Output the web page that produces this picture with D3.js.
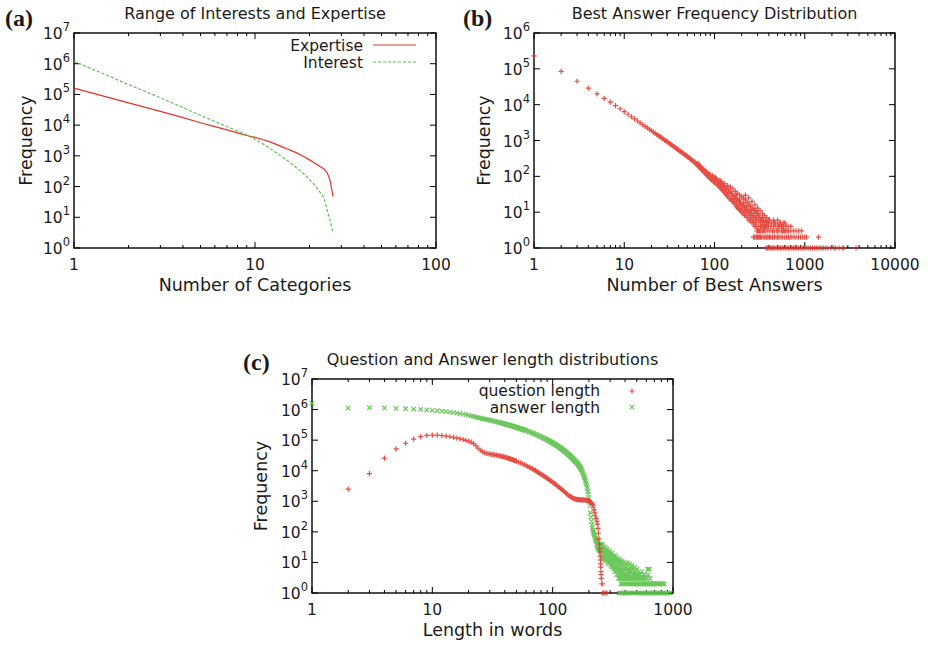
<!DOCTYPE html>
<html>
<head>
<meta charset="utf-8">
<script src="https://cdn.jsdelivr.net/npm/d3@7"></script>
<style>
  body { margin: 0; background: #fff; }
  svg { display: block; }
  text { font-family: "DejaVu Sans", sans-serif; fill: #1a1a1a; }
</style>
</head>
<body>
<svg id="chart" width="930" height="645"></svg>
<script>
// ---- (a) range of interests and expertise ----
const categories = [1, 2, 3, 4, 5, 6, 7, 8, 9, 10, 11, 12, 13, 14, 15, 16, 17, 18, 19, 20, 21, 22, 23, 24, 25, 26, 27];
const expertise = [160000, 53000, 28000, 17500, 12000, 9000, 7000, 5600, 4600, 4000, 3400, 2900, 2400, 2000, 1700, 1450, 1250, 1050, 880, 740, 620, 520, 440, 380, 290, 160, 47];
const interest = [1200000, 210000, 78000, 37000, 21000, 13000, 9000, 6400, 4800, 3400, 2500, 1800, 1300, 950, 720, 540, 400, 310, 235, 170, 125, 90, 62, 45, 18, 8, 3];
const catTicks = [1, 10, 100];

// ---- (b) best answer frequency distribution: [best answers, users] ----
const bestTrend = [[1,230000],[2,85000],[3,45000],[4,29000],[5,20000],[6,15000],[7,11700],[8,9400],[9,7700],[10,6400],
  [11,5400],[12,4600],[13,4000],[14,3500],[15,3100],[16,2750],[17,2480],[18,2240],[19,2040],[20,1880],
  [21,1720],[22,1590],[23,1470],[24,1360],[25,1270],[26,1180],[27,1100],[28,1030],[29,975],[30,920],
  [31,865],[32,815],[33,770],[34,730],[35,690],[36,655],[37,620],[38,590],[39,565],[40,540],
  [41,510],[42,495],[43,470],[44,455],[45,430],[46,420],[47,400],[48,385],[49,370],[50,355],
  [51,345],[52,330],[53,320],[54,305],[55,298],[56,285],[57,272],[58,265],[59,255],[60,245]];
const bestBand = [[61,250],[62,225],[63,228],[64,208],[65,215],[66,192],[67,200],[68,178],[69,185],[70,165],
  [71,175],[72,150],[73,160],[74,142],[75,155],[76,130],[77,145],[78,125],[79,138],[80,115],
  [81,128],[82,108],[83,122],[84,102],[85,118],[86,96],[87,110],[88,92],[89,104],[90,86],
  [91,99],[92,82],[93,95],[94,78],[95,90],[96,74],[97,88],[98,70],[99,84],[100,68],
  [102,90],[104,62],[106,78],[108,58],[110,75],[112,52],[114,68],[116,47],[118,64],[120,44],
  [122,58],[124,40],[126,55],[128,36],[130,50],[132,33],[134,46],[136,30],[138,44],[140,28],
  [143,40],[146,24],[149,36],[152,22],[155,33],[158,20],[161,30],[164,18],[167,27],[170,16],
  [173,25],[176,14],[179,22],[182,13],[185,21],[188,12],[191,19],[194,11],[197,17],[200,10],
  [204,16],[208,9],[212,15],[216,8],[220,14],[224,8],[228,12],[232,7],[236,11],[240,6],
  [245,10],[250,6],[255,9],[260,5],[265,8],[270,5],[275,7],[280,4],[285,7],[290,4],
  [296,6],[302,3],[308,6],[314,3],[320,5],[330,4],[340,5],[350,3],[360,4],[370,6],
  [380,4],[390,3],[400,5],[420,4],[440,3],[460,5],[480,4],[500,3],[520,4],[540,5],
  [560,3],[580,4],[600,3],[620,4],[650,3],[700,3],[750,3]];
const bestSpread = [[66,230],[70,190],[74,170],[78,150],[82,135],[86,120],[90,110],[95,105],[100,95],[105,85],
  [110,60],[115,80],[120,70],[125,48],[130,62],[135,40],[140,55],[145,35],[150,50],[155,28],
  [160,45],[165,24],[170,38],[175,20],[180,34],[185,17],[190,30],[195,15],[200,27],[205,13],
  [210,24],[215,11],[220,22],[225,10],[230,19],[235,9],[240,17],[245,8],[250,15],[255,7],
  [260,13],[265,6],[270,12],[275,6],[280,11],[285,5],[290,10],[300,9],[310,8],[320,7],
  [330,6],[340,7],[350,6],[360,5],[375,6],[390,5],[410,6],[430,5],[450,6],[470,5],
  [500,6],[530,5],[560,4],[600,5],[650,4],[700,4],[160,20],[175,30],[190,22],[210,18],
  [230,14],[250,11],[270,9],[290,7],[220,30],[240,25],[260,20],[280,16],[300,13],[320,11],
  [340,9],[360,8],[380,7],[400,6]];
const bestRow1 = [372, 385, 400, 415, 430, 445, 460, 480, 500, 520, 540, 560, 585, 610, 635, 660, 690, 720, 750, 780,
  810, 850, 890, 930, 970, 1010, 1060, 1110, 1160, 1220, 1280, 1340, 1400, 1470, 1540, 1620, 1700, 1800, 1950, 2100,
  2200, 2400, 2600, 2700, 3700];
const bestRow2 = [270, 280, 290, 300, 310, 320, 330, 345, 360, 375, 390, 405, 420, 440, 460, 480, 500, 520, 545, 570,
  600, 630, 660, 690, 720, 760, 800, 850, 900, 950, 1000, 1050, 1420];
const bestRow3 = [295, 310, 325, 340, 355, 370, 390, 410, 435, 460, 490, 520, 550, 580, 620, 660, 700, 750, 800, 860, 920];
const bestRow4 = [305, 320, 335, 350, 370, 395, 420, 450, 480, 510, 545, 580, 615, 650];
const bestRow5 = [320, 340, 360, 380, 400, 430, 465, 500, 540, 575];
const bestTicks = [1, 10, 100, 1000, 10000];

// ---- (c) question / answer length: [words, count] ----
const questionLen = [[2,2500],[3,8000],[4,26000],[5,52000],[6,79000],[7,108000],[8,130000],[9,143000],[10,147000],
  [11,146000],[12,141000],[13,135000],[14,129000],[15,123000],[16,117000],[17,111000],[18,105000],[19,99000],[20,93000],
  [21,86000],[22,77000],[23,66000],[24,55000],[25,47000],[26,42000],[27,39000],[28,37000],[29,36000],[30,35000],
  [31,34200],[32,33500],[33,32800],[34,32200],[35,31500],[36,30800],[37,30000],[38,29300],[39,28500],[40,27800],
  [41,27000],[42,26200],[43,25400],[44,24700],[45,23900],[46,23200],[47,22500],[48,21800],[49,21100],[50,20500],
  [52,19200],[54,18000],[56,16900],[58,15800],[60,14800],
  [62,13900],[64,13000],[66,12200],[68,11400],[70,10700],[72,10000],[74,9400],[76,8800],[78,8200],[80,7700],
  [82,7200],[84,6800],[86,6400],[88,6000],[90,5650],[92,5300],[94,5000],[96,4700],[98,4450],[100,4200],
  [102,3950],[104,3750],[106,3550],[108,3350],[110,3150],
  [113,2900],[116,2650],[119,2450],[122,2250],[125,2070],[128,1900],[131,1760],[134,1630],[137,1520],[140,1430],
  [143,1360],[146,1300],[149,1250],[152,1210],[155,1180],[158,1160],[161,1140],[164,1130],[167,1120],[170,1120],
  [173,1110],[176,1110],[179,1110],[182,1100],[185,1100],[188,1090],[191,1080],[194,1070],[197,1050],[200,1020],
  [203,990],[206,950],[209,900],[212,850],[215,780],[218,650],[221,520],[224,420],[227,330],[230,270],
  [233,220],[236,180],[238,130],[240,90],[242,60],[244,40],[246,28],[247,22],[248,16],[249,12],
  [250,9],[251,7],[252,5],[253,4],[254,3],[256,2],[258,2],[260,1],[262,1],[266,1],[275,1],[283,1]];
const answerLen = [[1,1600000],[2,1120000],[3,1150000],[4,1130000],[5,1100000],[6,1070000],[7,1040000],[8,1010000],[9,980000],[10,950000],
  [11,920000],[12,890000],[13,860000],[14,830000],[15,800000],[16,770000],[17,740000],[18,710000],[19,680000],[20,650000],
  [21,620000],[22,595000],[23,570000],[24,550000],[25,530000],[26,510000],[27,495000],[28,480000],[29,465000],[30,450000],
  [31,437000],[32,425000],[33,412000],[34,400000],[35,389000],[36,378000],[37,368000],[38,358000],[39,349000],[40,340000],
  [41,331000],[42,322000],[43,314000],[44,306000],[45,298000],[46,290000],[47,283000],[48,276000],[49,269000],[50,262000],
  [51,255000],[52,249000],[53,243000],[54,237000],[55,231000],[56,226000],[57,220000],[58,215000],[59,210000],[60,205000],
  [62,196000],[64,187000],[66,178000],[68,170000],[70,162000],[72,155000],[74,148000],[76,141000],[78,135000],[80,129000],
  [82,123000],[84,117000],[86,112000],[88,107000],[90,102000],[92,97500],[94,93000],[96,89000],[98,85000],[100,81500],
  [102,77500],[104,74000],[106,70500],[108,67000],[110,64000],[112,61000],[114,58000],[116,55500],[118,52500],[120,50000],
  [122,47500],[124,45000],[126,43000],[128,41000],[130,39000],[132,37000],[134,35000],[136,33000],[138,31500],[140,30000],
  [142,28500],[144,27000],[146,25500],[148,24000],[150,23000],[152,21500],[154,20500],[156,19500],[158,18500],[160,17500],
  [162,16500],[164,15500],[166,14500],[168,13500],[170,12500],[172,11500],[174,10500],[176,9500],[178,8500],[180,7500],
  [182,6700],[184,5900],[186,5100],[188,4400],[190,3700],[192,3100],[194,2600],[196,2100],[198,1700],[200,1300],
  [202,950],[204,700],[206,420],[208,300],[210,220],[212,170],[214,135],[216,115],[218,100],[220,90],
  [222,80],[224,70],[226,62],[228,56],[230,52]];
const answerTail = [[232,48],[233,36],[234,42],[235,30],[236,50],[237,38],[238,33],[239,44],[240,28],[241,36],
  [242,40],[243,26],[244,34],[245,30],[246,38],[247,24],[248,32],[249,27],[250,35],[252,22],
  [254,30],[256,25],[258,20],[260,28],[262,23],[264,18],[266,26],[268,21],[270,16],[272,24],
  [274,19],[276,14],[278,22],[280,17],[282,13],[284,20],[286,15],[288,12],[290,18],[292,14],
  [294,11],[296,16],[298,12],[300,10],[303,15],[306,11],[309,9],[312,13],[315,10],[318,8],
  [321,12],[324,9],[327,7],[330,11],[333,8],[336,6],[339,10],[342,7],[345,5],[348,9],
  [351,6],[354,5],[357,8],[360,6],[363,4],[366,7],[369,5],[372,4],[375,6],[378,4],
  [381,3],[384,6],[387,4],[390,3],[394,5],[398,4],[402,3],[406,6],[410,4],[414,3],
  [418,5],[422,4],[426,3],[430,5],[435,3],[440,4],[445,3],[450,5],[456,3],[462,4],
  [468,3],[474,4],[480,3],[488,5],[496,3],[505,4],[515,3],[525,4],[540,3],[555,3],
  [570,4],[585,3],[605,3],[635,6],[645,3]];
const answerSpread = [[251,40],[255,34],[259,38],[263,30],[267,33],[271,28],[275,30],[279,25],[283,27],[287,22],
  [291,24],[295,20],[299,22],[305,18],[311,20],[317,16],[323,14],[329,17],[335,13],[341,15],
  [347,12],[353,13],[359,11],[365,12],[371,10],[377,11],[383,9],[389,10],[395,8],[401,9],
  [408,7],[415,10],[422,8],[429,6],[436,9],[443,7],[450,6],[458,8],[466,6],[474,5],
  [482,7],[490,5],[500,6],[510,4],[520,5],[535,4],[550,5],[565,3],[580,4],[600,3],
  [620,4],[615,6],[256,15],[262,12],[268,14],[274,11],[280,13],[286,10],[292,9],[298,11],
  [304,8],[310,7],[316,9],[322,6],[328,5],[334,7],[340,4],[346,6],[352,3],[358,4],
  [364,3],[370,3],[376,5],[392,3],[404,4],[420,3],[436,4],[452,3],[470,3],[490,4],[510,3]];
const answerRow1 = [358, 366, 374, 382, 390, 398, 407, 416, 425, 435, 445, 455, 466, 477, 488, 500, 512, 525, 538, 552,
  566, 580, 595, 610, 626, 642, 660, 678, 696, 715, 735, 755, 776, 798, 820, 845, 870, 895, 920, 950];
const answerRow2 = [369, 378, 387, 396, 405, 415, 425, 435, 446, 457, 468, 480, 492, 505, 518, 532, 546, 560, 575, 590,
  606, 622, 640, 658, 676, 695, 715, 735, 756, 778, 800, 822, 845];
const lenTicks = [1, 10, 100, 1000];

const RED = '#e3342b';
const GREEN = '#5cc24a';

const svg = d3.select('#chart');

function drawPanel(p) {
  const b = p.box;
  const g = svg.append('g');
  const x = d3.scaleLog().domain(p.xDomain).range([b.left, b.right]);
  const y = d3.scaleLog().domain([1, Math.pow(10, p.yExp)]).range([b.bottom, b.top]);

  // gnuplot style ticks: inward, mirrored on top/right
  const xMinor = [];
  for (let d = p.xDomain[0]; d < p.xDomain[1]; d *= 10) {
    for (let k = 2; k < 10; k++) xMinor.push(d * k);
  }
  let path = '';
  p.xTicks.forEach(v => {
    const px = x(v);
    path += `M${px},${b.bottom}v-6M${px},${b.top}v6`;
  });
  xMinor.forEach(v => {
    const px = x(v);
    path += `M${px},${b.bottom}v-3M${px},${b.top}v3`;
  });
  const yExps = d3.range(0, p.yExp + 1);
  yExps.forEach(e => {
    const py = y(Math.pow(10, e));
    path += `M${b.left},${py}h6M${b.right},${py}h-6`;
  });
  g.append('path').attr('d', path).attr('stroke', '#000').attr('stroke-width', 1).attr('fill', 'none');
  g.append('rect')
    .attr('x', b.left).attr('y', b.top)
    .attr('width', b.right - b.left).attr('height', b.bottom - b.top)
    .attr('fill', 'none').attr('stroke', '#000').attr('stroke-width', 1.4);

  // tick labels
  g.selectAll('text.xt').data(p.xTicks).enter().append('text')
    .attr('class', 'xt')
    .attr('x', d => x(d)).attr('y', b.bottom + 22)
    .attr('text-anchor', 'middle').attr('font-size', 15.5)
    .text(d => d);
  const yl = g.selectAll('text.yt').data(yExps).enter().append('text')
    .attr('class', 'yt')
    .attr('x', b.left - 4).attr('y', d => y(Math.pow(10, d)) + 6)
    .attr('text-anchor', 'end').attr('font-size', 15.5);
  yl.append('tspan').text('10');
  yl.append('tspan').attr('dy', -8).attr('font-size', 11.5).text(d => d);

  // titles and labels
  const cx = (b.left + b.right) / 2;
  g.append('text').attr('x', cx).attr('y', b.top - 14)
    .attr('text-anchor', 'middle').attr('font-size', 16).text(p.title);
  g.append('text').attr('x', cx).attr('y', b.bottom + 43)
    .attr('text-anchor', 'middle').attr('font-size', 17.5).text(p.xLabel);
  g.append('text')
    .attr('transform', `translate(${p.yLabelX},${(b.top + b.bottom) / 2}) rotate(-90)`)
    .attr('text-anchor', 'middle').attr('font-size', 17.5).text('Frequency');
  g.append('text').attr('x', p.tag[0]).attr('y', p.tag[1])
    .attr('font-weight', 'bold').attr('font-size', 24)
    .style('font-family', '"Liberation Serif", serif')
    .text(p.tagText);

  return { g, x, y };
}

function plusMarks(g, pts, x, y, color) {
  g.append('path')
    .attr('d', pts.map(d => `M${x(d[0]) - 2.6},${y(d[1])}h5.2M${x(d[0])},${y(d[1]) - 2.6}v5.2`).join(''))
    .attr('stroke', color).attr('stroke-width', 1.2).attr('fill', 'none').attr('opacity', 0.88);
}
function crossMarks(g, pts, x, y, color) {
  g.append('path')
    .attr('d', pts.map(d => {
      const px = x(d[0]), py = y(d[1]);
      return `M${px - 2.2},${py - 2.2}l4.4,4.4M${px - 2.2},${py + 2.2}l4.4,-4.4`;
    }).join(''))
    .attr('stroke', color).attr('stroke-width', 1.2).attr('fill', 'none').attr('opacity', 0.9);
}

// ---- panel (a) ----
const pa = drawPanel({
  box: { left: 74, right: 436, top: 33, bottom: 248 },
  xDomain: [1, 100], xTicks: catTicks, yExp: 7,
  title: 'Range of Interests and Expertise', xLabel: 'Number of Categories',
  yLabelX: 32, tag: [5, 26], tagText: '(a)'
});
const lineA = d3.line().x(d => pa.x(d[0])).y(d => pa.y(d[1]));
pa.g.append('path').datum(d3.zip(categories, expertise)).attr('d', lineA)
  .attr('fill', 'none').attr('stroke', RED).attr('stroke-width', 1.2);
pa.g.append('path').datum(d3.zip(categories, interest)).attr('d', lineA)
  .attr('fill', 'none').attr('stroke', GREEN).attr('stroke-width', 1.2).attr('stroke-dasharray', '3,2');
// legend
const legA = [['Expertise', RED, null], ['Interest', GREEN, '3,2']];
legA.forEach((l, i) => {
  const ly = 45 + i * 17;
  pa.g.append('text').attr('x', 363).attr('y', ly + 6).attr('text-anchor', 'end')
    .attr('font-size', 15.5).text(l[0]);
  pa.g.append('line').attr('x1', 373).attr('x2', 416).attr('y1', ly).attr('y2', ly)
    .attr('stroke', l[1]).attr('stroke-width', 1.2).attr('stroke-dasharray', l[2]);
});

// ---- panel (b) ----
const pb = drawPanel({
  box: { left: 534, right: 895, top: 33, bottom: 248 },
  xDomain: [1, 10000], xTicks: bestTicks, yExp: 6,
  title: 'Best Answer Frequency Distribution', xLabel: 'Number of Best Answers',
  yLabelX: 490, tag: [463, 26], tagText: '(b)'
});
const bestRows = [bestRow1, bestRow2, bestRow3, bestRow4, bestRow5]
  .flatMap((row, i) => row.map(v => [v, i + 1]));
plusMarks(pb.g, bestTrend.concat(bestBand, bestSpread, bestRows), pb.x, pb.y, RED);

// ---- panel (c) ----
const pc = drawPanel({
  box: { left: 312, right: 673, top: 379, bottom: 593 },
  xDomain: [1, 1000], xTicks: lenTicks, yExp: 7,
  title: 'Question and Answer length distributions', xLabel: 'Length in words',
  yLabelX: 267, tag: [243, 370], tagText: '(c)'
});
const answerRows = answerRow1.map(v => [v, 1]).concat(answerRow2.map(v => [v, 2]));
crossMarks(pc.g, answerLen.concat(answerTail, answerSpread, answerRows), pc.x, pc.y, GREEN);
plusMarks(pc.g, questionLen, pc.x, pc.y, RED);
// legend
pc.g.append('text').attr('x', 600).attr('y', 396).attr('text-anchor', 'end').attr('font-size', 15.5).text('question length');
pc.g.append('text').attr('x', 600).attr('y', 413).attr('text-anchor', 'end').attr('font-size', 15.5).text('answer length');
plusMarks(pc.g, [[1, 1]], () => 632, () => 391, RED);
crossMarks(pc.g, [[1, 1]], () => 632, () => 407, GREEN);
</script>
</body>
</html>
